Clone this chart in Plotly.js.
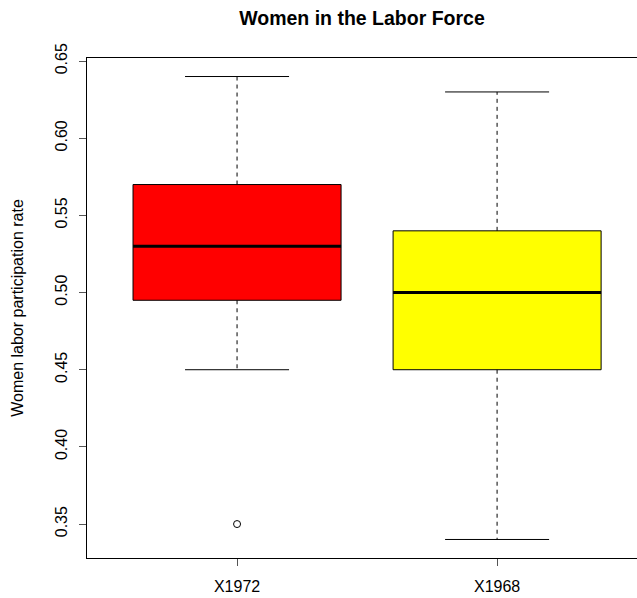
<!DOCTYPE html>
<html>
<head>
<meta charset="utf-8">
<script src="https://cdn.plot.ly/plotly-3.0.1.min.js"></script>
<style>html,body{margin:0;padding:0;background:#fff;}#chart{width:637px;height:598px;}</style>
</head>
<body>
<div id="chart"></div>
<script>
// ---- data ----
const categories = ["X1972", "X1968"];
const boxColors = ["#FF0000", "#FFFF00"];
const lowerWhisker = [0.45, 0.34];
const q1 = [0.495, 0.45];
const median = [0.53, 0.50];
const q3 = [0.57, 0.54];
const upperWhisker = [0.64, 0.63];
const outliers = [[0.35], []];

const yTicks = [0.35, 0.40, 0.45, 0.50, 0.55, 0.60, 0.65];

// ---- style ----
const boxHalf = 0.4;   // R boxwex 0.8
const capHalf = 0.2;   // staplewex 0.5
const dashR = "4px,4px";

const traces = [];
categories.forEach((cat, i) => {
  const x = i + 1;
  // box body
  traces.push({
    type: "scatter", mode: "lines", fill: "toself", fillcolor: boxColors[i],
    x: [x - boxHalf, x + boxHalf, x + boxHalf, x - boxHalf, x - boxHalf],
    y: [q1[i], q1[i], q3[i], q3[i], q1[i]],
    line: {color: "#000", width: 1}, hoverinfo: "skip", showlegend: false
  });
  // whiskers (dashed)
  traces.push({
    type: "scatter", mode: "lines",
    x: [x, x, null, x, x],
    y: [q3[i], upperWhisker[i], null, q1[i], lowerWhisker[i]],
    line: {color: "#000", width: 1, dash: dashR}, hoverinfo: "skip", showlegend: false
  });
  // staples
  traces.push({
    type: "scatter", mode: "lines",
    x: [x - capHalf, x + capHalf, null, x - capHalf, x + capHalf],
    y: [upperWhisker[i], upperWhisker[i], null, lowerWhisker[i], lowerWhisker[i]],
    line: {color: "#000", width: 1}, hoverinfo: "skip", showlegend: false
  });
  // median
  traces.push({
    type: "scatter", mode: "lines",
    x: [x - boxHalf, x + boxHalf],
    y: [median[i], median[i]],
    line: {color: "#000", width: 3}, hoverinfo: "skip", showlegend: false
  });
  // outliers
  if (outliers[i].length) {
    traces.push({
      type: "scatter", mode: "markers",
      x: outliers[i].map(() => x), y: outliers[i],
      marker: {symbol: "circle-open", size: 7, color: "#000", line: {width: 1, color: "#000"}},
      hoverinfo: "skip", showlegend: false
    });
  }
});

const font = "Liberation Sans, Arial, sans-serif";
const layout = {
  width: 637, height: 598,
  margin: {l: 87, r: 0, t: 58, b: 40},
  paper_bgcolor: "#fff", plot_bgcolor: "#fff",
  showlegend: false,
  title: {text: "<b>Women in the Labor Force</b>", font: {family: font, size: 19.5, color: "#000"},
          x: 0.5, xref: "paper", y: 0.969, yanchor: "middle"},
  xaxis: {
    range: [0.423, 2.538], showgrid: false, zeroline: false,
    showline: true, linecolor: "#000", linewidth: 1, mirror: true,
    tickmode: "array", tickvals: categories.map((c, i) => i + 1), ticktext: categories,
    ticks: "outside", ticklen: 7, tickcolor: "#555", tickwidth: 1, ticklabelstandoff: 7,
    tickfont: {family: font, size: 16, color: "#000"}, fixedrange: true
  },
  yaxis: {
    range: [0.328, 0.652], showgrid: false, zeroline: false,
    showline: true, linecolor: "#000", linewidth: 1, mirror: false,
    tickmode: "array", tickvals: yTicks, ticktext: yTicks.map(v => v.toFixed(2)),
    ticks: "outside", ticklen: 7, tickcolor: "#555", tickwidth: 1, tickangle: -90, ticklabelstandoff: 6,
    tickfont: {family: font, size: 16, color: "#000"},
    title: {text: "Women labor participation rate", font: {family: font, size: 16, color: "#000"}, standoff: 24},
    fixedrange: true
  }
};

Plotly.newPlot("chart", traces, layout, {displayModeBar: false, staticPlot: true});
</script>
</body>
</html>
